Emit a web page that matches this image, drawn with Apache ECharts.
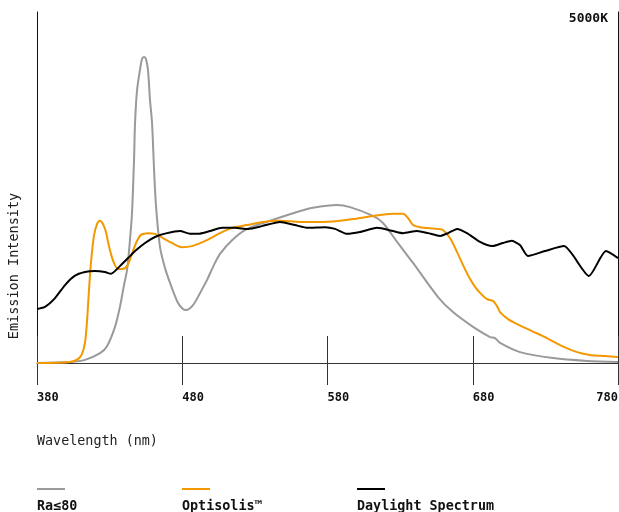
<!DOCTYPE html>
<html><head><meta charset="utf-8">
<script src="https://cdn.jsdelivr.net/npm/echarts@6/dist/echarts.min.js"></script>
<style>html,body{margin:0;padding:0;background:#fff;overflow:hidden}#c{width:619px;height:512px}</style>
</head><body><div id="c"></div>
<script>
const xTicks = [380, 480, 580, 680, 780];
const seriesNames = ['Ra≤80', 'Optisolis™', 'Daylight Spectrum'];
const ra80Wl = [380,402.7,413.0,423.4,428.2,433.7,437.1,439.9,442.0,444.0,445.4,446.8,447.5,448.9,450.9,452.3,453.7,455.0,456.4,457.8,459.2,460.6,461.9,464.7,468.1,471.6,477.1,480.5,482.6,487.4,492.2,497.0,501.2,506.0,514.3,524.6,538.3,559.0,570.0,586.5,595.5,611.3,618.2,627.9,638.9,656.1,666.4,680.2,691.9,695.3,698.8,712.5,735.3,758.7,780];
const ra80Val = [0,0.3,0.9,2.8,4.8,10.3,16.0,22.2,26.5,35.0,42.7,57.8,68.4,77.8,83.5,86.6,87.2,86.6,83.5,74.9,68.4,55.0,45.0,33.0,27.1,22.8,17.1,15.4,15.1,16.5,19.9,23.6,27.4,31.1,35.0,38.2,40.2,43.0,44.2,45.0,44.4,41.9,39.9,34.5,28.5,18.8,14.5,10.3,7.4,7.1,5.7,3.1,1.4,0.6,0.3];
const optiWl = [380,402.7,408.2,411.0,413.0,414.4,415.8,417.2,419.2,421.3,423.4,425.4,427.5,428.9,430.9,433.0,435.8,438.5,442.0,445.4,448.2,451.6,456.4,461.2,466.7,472.9,479.8,486.7,497.0,506.0,514.3,524.6,535.6,547.3,561.1,576.9,597.6,611.3,625.1,632.0,635.4,638.9,643.7,656.1,659.5,664.3,669.2,673.3,677.4,681.6,685.7,689.8,693.9,696.7,698.8,704.3,710.5,720.8,731.1,741.5,751.8,760.7,771.1,780];
const optiVal = [0,0.3,1.1,2.6,5.7,11.7,20.8,28.8,36.2,39.6,40.5,39.6,37.3,34.5,31.1,28.5,26.8,26.8,27.6,31.1,34.2,36.5,37.0,36.8,35.6,34.2,33.0,33.3,35.0,37.0,38.5,39.3,40.2,40.5,40.2,40.2,41.0,41.9,42.5,42.5,41.3,39.3,38.7,38.2,37.9,35.6,31.6,27.9,24.5,21.7,19.7,18.2,17.7,16.2,14.5,12.5,11.1,9.1,7.1,4.8,3.1,2.3,2.0,1.7];
const dayWl = [380,385.5,392.4,399.3,405.9,413.0,419.9,426.8,430.9,437.1,442.7,447.5,454.4,461.2,469.5,478.5,485.3,490.8,499.1,507.4,516.3,525.3,534.9,547.3,557.6,566.6,578.3,585.2,593.4,602.4,614.1,625.1,632.0,641.6,649.2,657.5,663.0,669.2,676.0,685.0,693.3,700.8,707.0,712.5,718.0,729.7,742.8,760.0,771.7,780];
const dayVal = [15.4,16.0,18.5,22.2,24.8,25.9,26.2,25.9,25.4,27.6,29.9,31.9,34.2,35.9,37.0,37.6,36.8,36.8,37.6,38.5,38.5,38.2,39.0,40.2,39.3,38.5,38.7,38.2,36.8,37.3,38.5,37.6,37.0,37.6,37.0,36.2,37.0,38.2,37.0,34.5,33.3,34.2,34.8,33.6,30.5,31.9,33.3,24.8,31.9,29.9];

const colors = ['#9a9a9a', '#f39800', '#000000'];
const font = '"DejaVu Sans Mono", monospace';
function pairs(w, v) { return w.map((x, i) => [x, v[i]]); }

const chart = echarts.init(document.getElementById('c'), null, {renderer: 'canvas', width: 619, height: 512});
const legendX = [37, 182, 357];
const graphics = [];
seriesNames.forEach((n, i) => {
  graphics.push({type: 'line', shape: {x1: legendX[i], y1: 489, x2: legendX[i] + 28, y2: 489}, style: {stroke: colors[i], lineWidth: 2}});
  graphics.push({type: 'text', x: legendX[i], y: 507, style: {text: n, font: 'bold 13.4px ' + font, fill: '#111', textAlign: 'left', textVerticalAlign: 'middle'}});
});
graphics.push({type: 'text', x: 37, y: 442, style: {text: 'Wavelength (nm)', font: '13.4px ' + font, fill: '#222', textAlign: 'left', textVerticalAlign: 'middle'}});
graphics.push({type: 'text', x: 14, y: 266, rotation: Math.PI / 2, style: {text: 'Emission Intensity', font: '13.5px ' + font, fill: '#222', textAlign: 'center', textVerticalAlign: 'middle'}});

chart.setOption({
  animation: false,
  title: {text: '5000K', right: 6, top: 7, textStyle: {fontFamily: font, fontSize: 13, fontWeight: 'bold', color: '#111'}},
  grid: {left: 37, right: 1, top: 12, bottom: 149, containLabel: false, outerBoundsMode: 'none'},
  xAxis: [
    {type: 'value', min: 380, max: 780, interval: 100, position: 'bottom',
     axisLine: {show: true, lineStyle: {color: '#333', width: 1}},
     axisTick: {show: true, length: 22, lineStyle: {color: '#333'}},
     axisLabel: {margin: 29, align: 'left', alignMaxLabel: 'right', fontFamily: font, fontSize: 12, fontWeight: 'bold', color: '#111',
       formatter: v => xTicks.includes(v) ? String(v) : ''},
     splitLine: {show: false}},
    {type: 'value', min: 380, max: 780, interval: 100, position: 'bottom',
     axisLine: {show: false}, axisLabel: {show: false}, splitLine: {show: false},
     axisTick: {show: true, inside: true, length: 27, lineStyle: {color: '#333'}}}
  ],
  yAxis: [
    {type: 'value', min: 0, max: 100, position: 'left', axisLine: {show: true, lineStyle: {color: '#111'}}, axisTick: {show: false}, axisLabel: {show: false}, splitLine: {show: false}},
    {type: 'value', min: 0, max: 100, position: 'right', axisLine: {show: true, lineStyle: {color: '#111'}}, axisTick: {show: false}, axisLabel: {show: false}, splitLine: {show: false}}
  ],
  graphic: graphics,
  series: [
    {name: seriesNames[0], type: 'line', data: pairs(ra80Wl, ra80Val), smooth: 0.3, symbol: 'none', lineStyle: {color: colors[0], width: 2}, z: 2},
    {name: seriesNames[1], type: 'line', data: pairs(optiWl, optiVal), smooth: 0.3, symbol: 'none', lineStyle: {color: colors[1], width: 2}, z: 3},
    {name: seriesNames[2], type: 'line', data: pairs(dayWl, dayVal), smooth: 0.2, symbol: 'none', lineStyle: {color: colors[2], width: 2}, z: 4}
  ]
});
</script></body></html>
